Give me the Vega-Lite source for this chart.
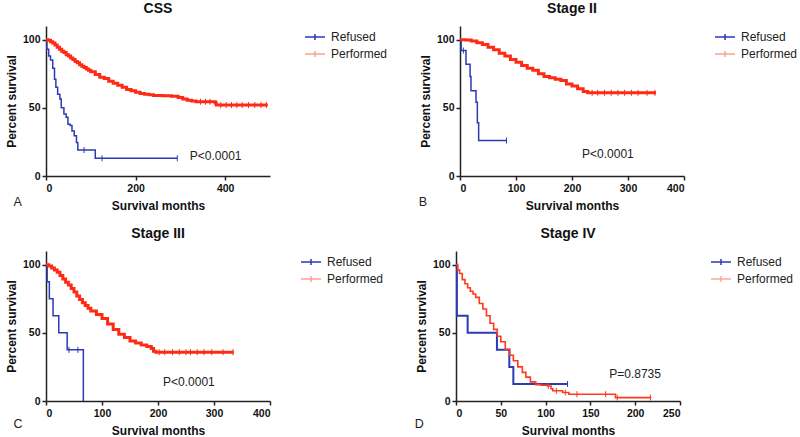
{
  "$schema": "https://vega.github.io/schema/vega-lite/v6.json",
  "padding": {"left": 5, "top": 2, "right": 0, "bottom": 0},
  "background": "white",
  "config": {
    "view": {"stroke": null},
    "font": "Liberation Sans",
    "axis": {
      "grid": false,
      "domainColor": "#222",
      "domainWidth": 1.5,
      "tickColor": "#222",
      "tickWidth": 1.5,
      "tickSize": 4,
      "labelFont": "Liberation Sans",
      "labelFontWeight": "bold",
      "labelFontSize": 10.5,
      "labelColor": "#111",
      "titleFont": "Liberation Sans",
      "titleFontWeight": "bold",
      "titleFontSize": 12,
      "titleColor": "#111"
    },
    "axisX": {"labelPadding": 3, "titlePadding": 7},
    "axisY": {"labelPadding": 2, "titlePadding": 4},
    "title": {"font": "Liberation Sans", "fontSize": 14, "fontWeight": "bold", "color": "#111", "offset": 10},
    "legend": {
      "orient": "right",
      "offset": 30,
      "title": null,
      "labelFont": "Liberation Sans",
      "labelFontSize": 12,
      "labelColor": "#222",
      "symbolType": "M-1,0H1M0,-0.3V0.3",
      "symbolSize": 400,
      "symbolStrokeWidth": 1.5,
      "rowPadding": 0,
      "labelOffset": 5,
      "padding": 0
    }
  },
  "resolve": {"scale": {"color": "independent"}, "legend": {"color": "independent"}},
  "spacing": 15,
  "vconcat": [
    {
      "resolve": {"scale": {"color": "independent"}, "legend": {"color": "independent"}},
      "spacing": 30,
      "hconcat": [
        {
          "width": 224, "height": 150,
          "title": {"text": "CSS"},
          "layer": [
            {
              "data": {"values": [
                {"g": "Refused", "t": 0, "s": 100}, {"g": "Refused", "t": 2, "s": 93}, {"g": "Refused", "t": 6, "s": 88},
                {"g": "Refused", "t": 10, "s": 85}, {"g": "Refused", "t": 15, "s": 79}, {"g": "Refused", "t": 19, "s": 71},
                {"g": "Refused", "t": 22, "s": 65}, {"g": "Refused", "t": 26, "s": 60}, {"g": "Refused", "t": 31, "s": 56.5},
                {"g": "Refused", "t": 34, "s": 50}, {"g": "Refused", "t": 40, "s": 45.5}, {"g": "Refused", "t": 45, "s": 43},
                {"g": "Refused", "t": 49, "s": 38}, {"g": "Refused", "t": 54, "s": 37}, {"g": "Refused", "t": 58, "s": 33},
                {"g": "Refused", "t": 63, "s": 29.5}, {"g": "Refused", "t": 68, "s": 24.5}, {"g": "Refused", "t": 71, "s": 19},
                {"g": "Refused", "t": 110, "s": 13}, {"g": "Refused", "t": 293, "s": 13}
              ]},
              "mark": {"type": "line", "interpolate": "step-after", "strokeWidth": 1.5},
              "encoding": {
                "x": {"field": "t", "type": "quantitative", "scale": {"domain": [0, 500], "nice": false}, "axis": {"values": [0, 200, 400], "title": "Survival months"}},
                "y": {"field": "s", "type": "quantitative", "scale": {"domain": [0, 110], "nice": false}, "axis": {"values": [0, 50, 100], "title": "Percent survival"}},
                "color": {"field": "g", "type": "nominal", "scale": {"domain": ["Refused", "Performed"], "range": ["#2a3bb5", "#ff2a14"]},
                  "legend": {"encode": {"symbols": {"update": {"strokeOpacity": {"signal": "datum.value === 'Performed' ? 0.45 : 1"}}}}}}
              }
            },
            {
              "data": {"values": [
                {"g": "Performed", "t": 0, "s": 100}, {"g": "Performed", "t": 5, "s": 99.5}, {"g": "Performed", "t": 10, "s": 98.5},
                {"g": "Performed", "t": 15, "s": 97.5}, {"g": "Performed", "t": 20, "s": 96}, {"g": "Performed", "t": 25, "s": 94.5},
                {"g": "Performed", "t": 30, "s": 93}, {"g": "Performed", "t": 35, "s": 91.5}, {"g": "Performed", "t": 40, "s": 90.5},
                {"g": "Performed", "t": 45, "s": 89}, {"g": "Performed", "t": 50, "s": 88}, {"g": "Performed", "t": 55, "s": 86.5},
                {"g": "Performed", "t": 60, "s": 85.5}, {"g": "Performed", "t": 65, "s": 84}, {"g": "Performed", "t": 70, "s": 83},
                {"g": "Performed", "t": 75, "s": 81.5}, {"g": "Performed", "t": 80, "s": 80.5}, {"g": "Performed", "t": 85, "s": 79.5},
                {"g": "Performed", "t": 90, "s": 78.5}, {"g": "Performed", "t": 95, "s": 77.5}, {"g": "Performed", "t": 100, "s": 76.5},
                {"g": "Performed", "t": 110, "s": 74.5}, {"g": "Performed", "t": 120, "s": 72.5}, {"g": "Performed", "t": 130, "s": 71.5},
                {"g": "Performed", "t": 140, "s": 69.5}, {"g": "Performed", "t": 150, "s": 68}, {"g": "Performed", "t": 160, "s": 66.5},
                {"g": "Performed", "t": 170, "s": 65}, {"g": "Performed", "t": 180, "s": 63.5}, {"g": "Performed", "t": 190, "s": 62.5},
                {"g": "Performed", "t": 200, "s": 61.5}, {"g": "Performed", "t": 210, "s": 60.5}, {"g": "Performed", "t": 220, "s": 60},
                {"g": "Performed", "t": 230, "s": 59.5}, {"g": "Performed", "t": 240, "s": 59}, {"g": "Performed", "t": 260, "s": 58.8},
                {"g": "Performed", "t": 280, "s": 58.5}, {"g": "Performed", "t": 295, "s": 57.5}, {"g": "Performed", "t": 305, "s": 56.5},
                {"g": "Performed", "t": 315, "s": 55.5}, {"g": "Performed", "t": 325, "s": 55}, {"g": "Performed", "t": 335, "s": 54.5},
                {"g": "Performed", "t": 378, "s": 53.5}, {"g": "Performed", "t": 380, "s": 52}, {"g": "Performed", "t": 495, "s": 52}
              ]},
              "mark": {"type": "line", "interpolate": "step-after", "strokeWidth": 3},
              "encoding": {
                "x": {"field": "t", "type": "quantitative"},
                "y": {"field": "s", "type": "quantitative"},
                "color": {"field": "g", "type": "nominal"}
              }
            },
            {
              "data": {"values": [
                {"g": "Refused", "t": 85, "s": 19}, {"g": "Refused", "t": 125, "s": 13}, {"g": "Refused", "t": 293, "s": 13},
                {"g": "Performed", "t": 345, "s": 54.5}, {"g": "Performed", "t": 356, "s": 54.5}, {"g": "Performed", "t": 366, "s": 54.5},
                {"g": "Performed", "t": 390, "s": 52}, {"g": "Performed", "t": 402, "s": 52}, {"g": "Performed", "t": 414, "s": 52},
                {"g": "Performed", "t": 426, "s": 52}, {"g": "Performed", "t": 438, "s": 52}, {"g": "Performed", "t": 452, "s": 52},
                {"g": "Performed", "t": 466, "s": 52}, {"g": "Performed", "t": 480, "s": 52}, {"g": "Performed", "t": 492, "s": 52}
              ]},
              "mark": {"type": "point", "shape": "M0,-1V1", "size": 36, "filled": false, "strokeWidth": 1, "opacity": 1},
              "encoding": {
                "x": {"field": "t", "type": "quantitative"},
                "y": {"field": "s", "type": "quantitative"},
                "color": {"field": "g", "type": "nominal"}
              }
            },
            {
              "data": {"values": [{"label": "P<0.0001"}]},
              "mark": {"type": "text", "align": "left", "baseline": "middle", "fontSize": 12, "color": "#222"},
              "encoding": {"x": {"datum": 321}, "y": {"datum": 14.7}, "text": {"field": "label"}}
            },
            {
              "data": {"values": [{"label": "A"}]},
              "mark": {"type": "text", "align": "center", "baseline": "middle", "fontSize": 12.5, "color": "#222", "clip": false},
              "encoding": {"x": {"datum": -63}, "y": {"datum": -19}, "text": {"field": "label"}}
            }
          ]
        },
        {
          "width": 224, "height": 150,
          "title": {"text": "Stage II"},
          "layer": [
            {
              "data": {"values": [
                {"g": "Refused", "t": 0, "s": 100}, {"g": "Refused", "t": 2, "s": 92}, {"g": "Refused", "t": 10.7, "s": 82},
                {"g": "Refused", "t": 18, "s": 73}, {"g": "Refused", "t": 19.6, "s": 62.6}, {"g": "Refused", "t": 28.6, "s": 54},
                {"g": "Refused", "t": 31, "s": 39}, {"g": "Refused", "t": 33.3, "s": 26}, {"g": "Refused", "t": 83, "s": 26}
              ]},
              "mark": {"type": "line", "interpolate": "step-after", "strokeWidth": 1.5},
              "encoding": {
                "x": {"field": "t", "type": "quantitative", "scale": {"domain": [0, 400], "nice": false}, "axis": {"values": [0, 100, 200, 300, 400], "title": "Survival months"}},
                "y": {"field": "s", "type": "quantitative", "scale": {"domain": [0, 110], "nice": false}, "axis": {"values": [0, 50, 100], "title": "Percent survival"}},
                "color": {"field": "g", "type": "nominal", "scale": {"domain": ["Refused", "Performed"], "range": ["#2a3bb5", "#ff2a14"]},
                  "legend": {"encode": {"symbols": {"update": {"strokeOpacity": {"signal": "datum.value === 'Performed' ? 0.45 : 1"}}}}}}
              }
            },
            {
              "data": {"values": [
                {"g": "Performed", "t": 0, "s": 100}, {"g": "Performed", "t": 10, "s": 99.7}, {"g": "Performed", "t": 20, "s": 99},
                {"g": "Performed", "t": 30, "s": 97.8}, {"g": "Performed", "t": 40, "s": 96.5}, {"g": "Performed", "t": 50, "s": 94.5},
                {"g": "Performed", "t": 60, "s": 92.5}, {"g": "Performed", "t": 70, "s": 90}, {"g": "Performed", "t": 80, "s": 88},
                {"g": "Performed", "t": 90, "s": 85.5}, {"g": "Performed", "t": 100, "s": 83.5}, {"g": "Performed", "t": 110, "s": 81},
                {"g": "Performed", "t": 120, "s": 79}, {"g": "Performed", "t": 130, "s": 77.5}, {"g": "Performed", "t": 140, "s": 75},
                {"g": "Performed", "t": 150, "s": 73}, {"g": "Performed", "t": 160, "s": 72}, {"g": "Performed", "t": 170, "s": 71},
                {"g": "Performed", "t": 180, "s": 70}, {"g": "Performed", "t": 190, "s": 67.5}, {"g": "Performed", "t": 200, "s": 66},
                {"g": "Performed", "t": 210, "s": 64}, {"g": "Performed", "t": 220, "s": 62}, {"g": "Performed", "t": 228, "s": 61},
                {"g": "Performed", "t": 350, "s": 61}
              ]},
              "mark": {"type": "line", "interpolate": "step-after", "strokeWidth": 3},
              "encoding": {
                "x": {"field": "t", "type": "quantitative"},
                "y": {"field": "s", "type": "quantitative"},
                "color": {"field": "g", "type": "nominal"}
              }
            },
            {
              "data": {"values": [
                {"g": "Refused", "t": 6, "s": 92}, {"g": "Refused", "t": 83, "s": 26},
                {"g": "Performed", "t": 236, "s": 61}, {"g": "Performed", "t": 246, "s": 61}, {"g": "Performed", "t": 258, "s": 61},
                {"g": "Performed", "t": 270, "s": 61}, {"g": "Performed", "t": 282, "s": 61}, {"g": "Performed", "t": 294, "s": 61},
                {"g": "Performed", "t": 306, "s": 61}, {"g": "Performed", "t": 318, "s": 61}, {"g": "Performed", "t": 334, "s": 61},
                {"g": "Performed", "t": 348, "s": 61}
              ]},
              "mark": {"type": "point", "shape": "M0,-1V1", "size": 36, "filled": false, "strokeWidth": 1, "opacity": 1},
              "encoding": {
                "x": {"field": "t", "type": "quantitative"},
                "y": {"field": "s", "type": "quantitative"},
                "color": {"field": "g", "type": "nominal"}
              }
            },
            {
              "data": {"values": [{"label": "P<0.0001"}]},
              "mark": {"type": "text", "align": "left", "baseline": "middle", "fontSize": 12, "color": "#222"},
              "encoding": {"x": {"datum": 218}, "y": {"datum": 16}, "text": {"field": "label"}}
            },
            {
              "data": {"values": [{"label": "B"}]},
              "mark": {"type": "text", "align": "center", "baseline": "middle", "fontSize": 12.5, "color": "#222", "clip": false},
              "encoding": {"x": {"datum": -66}, "y": {"datum": -19}, "text": {"field": "label"}}
            }
          ]
        }
      ]
    },
    {
      "resolve": {"scale": {"color": "independent"}, "legend": {"color": "independent"}},
      "spacing": 30,
      "hconcat": [
        {
          "width": 224, "height": 150,
          "title": {"text": "Stage III"},
          "layer": [
            {
              "data": {"values": [
                {"g": "Refused", "t": 0, "s": 100}, {"g": "Refused", "t": 2, "s": 87.5}, {"g": "Refused", "t": 6, "s": 75},
                {"g": "Refused", "t": 12.6, "s": 62.5}, {"g": "Refused", "t": 22.8, "s": 50}, {"g": "Refused", "t": 37.8, "s": 37.5},
                {"g": "Refused", "t": 66.7, "s": 0}
              ]},
              "mark": {"type": "line", "interpolate": "step-after", "strokeWidth": 1.5},
              "encoding": {
                "x": {"field": "t", "type": "quantitative", "scale": {"domain": [0, 400], "nice": false}, "axis": {"values": [0, 100, 200, 300, 400], "title": "Survival months"}},
                "y": {"field": "s", "type": "quantitative", "scale": {"domain": [0, 110], "nice": false}, "axis": {"values": [0, 50, 100], "title": "Percent survival"}},
                "color": {"field": "g", "type": "nominal", "scale": {"domain": ["Refused", "Performed"], "range": ["#2a3bb5", "#ff2a14"]},
                  "legend": {"encode": {"symbols": {"update": {"strokeOpacity": {"signal": "datum.value === 'Performed' ? 0.45 : 1"}}}}}}
              }
            },
            {
              "data": {"values": [
                {"g": "Performed", "t": 0, "s": 100}, {"g": "Performed", "t": 5, "s": 99}, {"g": "Performed", "t": 10, "s": 97.5},
                {"g": "Performed", "t": 15, "s": 96}, {"g": "Performed", "t": 20, "s": 94.5}, {"g": "Performed", "t": 25, "s": 92},
                {"g": "Performed", "t": 30, "s": 89.5}, {"g": "Performed", "t": 35, "s": 87}, {"g": "Performed", "t": 40, "s": 85},
                {"g": "Performed", "t": 45, "s": 82.5}, {"g": "Performed", "t": 50, "s": 80}, {"g": "Performed", "t": 55, "s": 77},
                {"g": "Performed", "t": 60, "s": 74.5}, {"g": "Performed", "t": 65, "s": 72}, {"g": "Performed", "t": 70, "s": 70},
                {"g": "Performed", "t": 75, "s": 68}, {"g": "Performed", "t": 80, "s": 66}, {"g": "Performed", "t": 90, "s": 63.5},
                {"g": "Performed", "t": 100, "s": 60.5}, {"g": "Performed", "t": 110, "s": 56.5}, {"g": "Performed", "t": 120, "s": 52.5},
                {"g": "Performed", "t": 130, "s": 49}, {"g": "Performed", "t": 140, "s": 46.5}, {"g": "Performed", "t": 150, "s": 44},
                {"g": "Performed", "t": 160, "s": 42.5}, {"g": "Performed", "t": 170, "s": 41}, {"g": "Performed", "t": 180, "s": 40},
                {"g": "Performed", "t": 188, "s": 38.5}, {"g": "Performed", "t": 192, "s": 36.5}, {"g": "Performed", "t": 196, "s": 35.8},
                {"g": "Performed", "t": 335, "s": 35.8}
              ]},
              "mark": {"type": "line", "interpolate": "step-after", "strokeWidth": 3},
              "encoding": {
                "x": {"field": "t", "type": "quantitative"},
                "y": {"field": "s", "type": "quantitative"},
                "color": {"field": "g", "type": "nominal"}
              }
            },
            {
              "data": {"values": [
                {"g": "Refused", "t": 41, "s": 37.5}, {"g": "Refused", "t": 57, "s": 37.5},
                {"g": "Performed", "t": 202, "s": 35.8}, {"g": "Performed", "t": 212, "s": 35.8}, {"g": "Performed", "t": 226, "s": 35.8},
                {"g": "Performed", "t": 238, "s": 35.8}, {"g": "Performed", "t": 250, "s": 35.8}, {"g": "Performed", "t": 258, "s": 35.8},
                {"g": "Performed", "t": 270, "s": 35.8}, {"g": "Performed", "t": 282, "s": 35.8}, {"g": "Performed", "t": 296, "s": 35.8},
                {"g": "Performed", "t": 316, "s": 35.8}, {"g": "Performed", "t": 334, "s": 35.8}
              ]},
              "mark": {"type": "point", "shape": "M0,-1V1", "size": 36, "filled": false, "strokeWidth": 1, "opacity": 1},
              "encoding": {
                "x": {"field": "t", "type": "quantitative"},
                "y": {"field": "s", "type": "quantitative"},
                "color": {"field": "g", "type": "nominal"}
              }
            },
            {
              "data": {"values": [{"label": "P<0.0001"}]},
              "mark": {"type": "text", "align": "left", "baseline": "middle", "fontSize": 12, "color": "#222"},
              "encoding": {"x": {"datum": 209}, "y": {"datum": 14}, "text": {"field": "label"}}
            },
            {
              "data": {"values": [{"label": "C"}]},
              "mark": {"type": "text", "align": "center", "baseline": "middle", "fontSize": 12.5, "color": "#222", "clip": false},
              "encoding": {"x": {"datum": -50}, "y": {"datum": -17}, "text": {"field": "label"}}
            }
          ]
        },
        {
          "width": 224, "height": 150,
          "title": {"text": "Stage IV"},
          "layer": [
            {
              "data": {"values": [
                {"g": "Refused", "t": 0, "s": 100}, {"g": "Refused", "t": 1, "s": 62.5}, {"g": "Refused", "t": 13, "s": 50},
                {"g": "Refused", "t": 45.7, "s": 37.5}, {"g": "Refused", "t": 59.5, "s": 25}, {"g": "Refused", "t": 64, "s": 12.5},
                {"g": "Refused", "t": 124.5, "s": 12.5}
              ]},
              "mark": {"type": "line", "interpolate": "step-after", "strokeWidth": 2},
              "encoding": {
                "x": {"field": "t", "type": "quantitative", "scale": {"domain": [0, 250], "nice": false}, "axis": {"values": [0, 50, 100, 150, 200, 250], "title": "Survival months"}},
                "y": {"field": "s", "type": "quantitative", "scale": {"domain": [0, 110], "nice": false}, "axis": {"values": [0, 50, 100], "title": "Percent survival"}},
                "color": {"field": "g", "type": "nominal", "scale": {"domain": ["Refused", "Performed"], "range": ["#2a3bb5", "#ff3a1a"]},
                  "legend": {"encode": {"symbols": {"update": {"strokeOpacity": {"signal": "datum.value === 'Performed' ? 0.45 : 1"}}}}}}
              }
            },
            {
              "data": {"values": [
                {"g": "Performed", "t": 0, "s": 100}, {"g": "Performed", "t": 2, "s": 96}, {"g": "Performed", "t": 4, "s": 93.5},
                {"g": "Performed", "t": 7, "s": 89}, {"g": "Performed", "t": 10, "s": 86}, {"g": "Performed", "t": 13, "s": 83},
                {"g": "Performed", "t": 16, "s": 80.5}, {"g": "Performed", "t": 19, "s": 78.5}, {"g": "Performed", "t": 22, "s": 76},
                {"g": "Performed", "t": 26, "s": 71.5}, {"g": "Performed", "t": 30, "s": 67.5}, {"g": "Performed", "t": 34, "s": 62.5},
                {"g": "Performed", "t": 38, "s": 57}, {"g": "Performed", "t": 42, "s": 52.5}, {"g": "Performed", "t": 46, "s": 47.5},
                {"g": "Performed", "t": 50, "s": 43.5}, {"g": "Performed", "t": 55, "s": 38}, {"g": "Performed", "t": 60, "s": 33.5},
                {"g": "Performed", "t": 64, "s": 29.5}, {"g": "Performed", "t": 69, "s": 25}, {"g": "Performed", "t": 74, "s": 21},
                {"g": "Performed", "t": 78, "s": 17.5}, {"g": "Performed", "t": 83, "s": 14}, {"g": "Performed", "t": 89, "s": 12},
                {"g": "Performed", "t": 95, "s": 11.5}, {"g": "Performed", "t": 102, "s": 11}, {"g": "Performed", "t": 106, "s": 9},
                {"g": "Performed", "t": 108, "s": 7.5}, {"g": "Performed", "t": 119, "s": 6.2}, {"g": "Performed", "t": 126, "s": 5},
                {"g": "Performed", "t": 178, "s": 2.5}, {"g": "Performed", "t": 218, "s": 2.5}
              ]},
              "mark": {"type": "line", "interpolate": "step-after", "strokeWidth": 1.6},
              "encoding": {
                "x": {"field": "t", "type": "quantitative"},
                "y": {"field": "s", "type": "quantitative"},
                "color": {"field": "g", "type": "nominal"}
              }
            },
            {
              "data": {"values": [
                {"g": "Refused", "t": 124.5, "s": 12.5},
                {"g": "Performed", "t": 103, "s": 11}, {"g": "Performed", "t": 112, "s": 7.5}, {"g": "Performed", "t": 122, "s": 6.2},
                {"g": "Performed", "t": 135, "s": 5}, {"g": "Performed", "t": 167, "s": 5}, {"g": "Performed", "t": 180, "s": 2.5},
                {"g": "Performed", "t": 217, "s": 2.5}
              ]},
              "mark": {"type": "point", "shape": "M0,-1V1", "size": 36, "filled": false, "strokeWidth": 1, "opacity": 1},
              "encoding": {
                "x": {"field": "t", "type": "quantitative"},
                "y": {"field": "s", "type": "quantitative"},
                "color": {"field": "g", "type": "nominal"}
              }
            },
            {
              "data": {"values": [{"label": "P=0.8735"}]},
              "mark": {"type": "text", "align": "left", "baseline": "middle", "fontSize": 12, "color": "#222"},
              "encoding": {"x": {"datum": 171}, "y": {"datum": 20}, "text": {"field": "label"}}
            },
            {
              "data": {"values": [{"label": "D"}]},
              "mark": {"type": "text", "align": "center", "baseline": "middle", "fontSize": 12.5, "color": "#222", "clip": false},
              "encoding": {"x": {"datum": -41}, "y": {"datum": -17}, "text": {"field": "label"}}
            }
          ]
        }
      ]
    }
  ]
}
